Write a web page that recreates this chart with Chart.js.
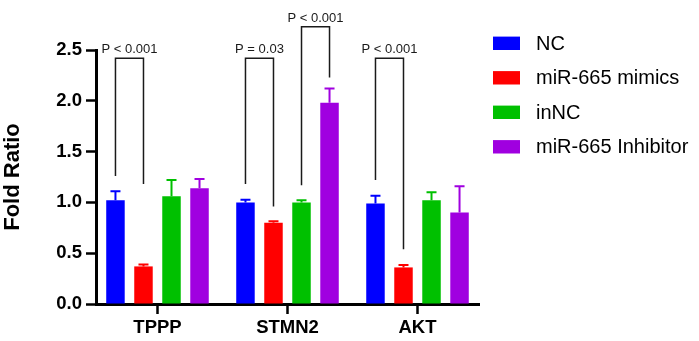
<!DOCTYPE html>
<html><head><meta charset="utf-8">
<script src="https://cdn.jsdelivr.net/npm/chart.js@4/dist/chart.umd.min.js"></script>
<style>html,body{margin:0;padding:0;background:#fff;overflow:hidden;}</style>
</head><body>
<canvas id="c" width="699" height="341"></canvas>
<script>
const categories = ['TPPP', 'STMN2', 'AKT'];
const seriesNames = ['NC', 'miR-665 mimics', 'inNC', 'miR-665 Inhibitor'];
const seriesColors = ['#0000FF', '#FF0000', '#00C000', '#A000E0'];
const ncValues = [1.02, 1.00, 0.99];
const ncErrors = [0.09, 0.025, 0.075];
const mimicsValues = [0.37, 0.80, 0.36];
const mimicsErrors = [0.02, 0.015, 0.025];
const inncValues = [1.06, 1.00, 1.02];
const inncErrors = [0.16, 0.02, 0.08];
const inhibitorValues = [1.14, 1.98, 0.90];
const inhibitorErrors = [0.09, 0.14, 0.26];
const yTickLabels = ['0.0', '0.5', '1.0', '1.5', '2.0', '2.5'];

// significance brackets
const sigCategory = [0, 1, 1, 2];
const sigFrom = [0, 0, 2, 0];
const sigTo = [1, 1, 3, 1];
const sigTop = [2.42, 2.42, 2.73, 2.42];
const sigFromEnd = [1.26, 1.18, 1.17, 1.22];
const sigToEnd = [1.18, 0.96, 2.23, 0.54];
const sigLabels = ['P < 0.001', 'P = 0.03', 'P < 0.001', 'P < 0.001'];

const allValues = [ncValues, mimicsValues, inncValues, inhibitorValues];
const allErrors = [ncErrors, mimicsErrors, inncErrors, inhibitorErrors];
const FONT = "'Liberation Sans', Arial, Helvetica, sans-serif";

const datasets = seriesNames.map((name, i) => ({
  label: name,
  data: allValues[i].map((v, j) => ({x: j, y: v})),
  backgroundColor: seriesColors[i],
  borderWidth: 0,
  categoryPercentage: 0.862,
  barPercentage: 0.66
}));

const extrasPlugin = {
  id: 'extras',
  afterDatasetsDraw(chart) {
    const ctx = chart.ctx;
    const ys = chart.scales.y;
    // error bars
    chart.data.datasets.forEach((ds, i) => {
      const meta = chart.getDatasetMeta(i);
      meta.data.forEach((bar, j) => {
        const top = ys.getPixelForValue(allValues[i][j] + allErrors[i][j]);
        const base = ys.getPixelForValue(allValues[i][j]);
        ctx.save();
        ctx.strokeStyle = seriesColors[i];
        ctx.lineWidth = 2;
        ctx.beginPath();
        ctx.moveTo(bar.x, base);
        ctx.lineTo(bar.x, top);
        ctx.moveTo(bar.x - 5, top);
        ctx.lineTo(bar.x + 5, top);
        ctx.stroke();
        ctx.restore();
      });
    });
    // significance brackets
    sigCategory.forEach((c, k) => {
      const x1 = chart.getDatasetMeta(sigFrom[k]).data[c].x;
      const x2 = chart.getDatasetMeta(sigTo[k]).data[c].x;
      const yt = ys.getPixelForValue(sigTop[k]);
      const y1 = ys.getPixelForValue(sigFromEnd[k]);
      const y2 = ys.getPixelForValue(sigToEnd[k]);
      ctx.save();
      ctx.strokeStyle = '#1a1a1a';
      ctx.lineWidth = 1.5;
      ctx.beginPath();
      ctx.moveTo(x1, y1);
      ctx.lineTo(x1, yt);
      ctx.lineTo(x2, yt);
      ctx.lineTo(x2, y2);
      ctx.stroke();
      ctx.fillStyle = '#1a1a1a';
      ctx.font = '13px ' + FONT;
      ctx.textAlign = 'center';
      ctx.textBaseline = 'alphabetic';
      ctx.fillText(sigLabels[k], (x1 + x2) / 2, yt - 5);
      ctx.restore();
    });
  },
  afterDraw(chart) {
    // legend
    const ctx = chart.ctx;
    const area = chart.chartArea;
    const bx = area.right + 14;
    ctx.save();
    chart.data.datasets.forEach((ds, i) => {
      const cy = area.top - 6.7 + i * 34.5;
      ctx.fillStyle = ds.backgroundColor;
      ctx.fillRect(bx, cy - 6.7, 27, 13.4);
      ctx.fillStyle = '#000';
      ctx.font = '20px ' + FONT;
      ctx.textAlign = 'left';
      ctx.textBaseline = 'middle';
      ctx.fillText(ds.label, bx + 43, cy + 1);
    });
    ctx.restore();
  }
};

new Chart(document.getElementById('c'), {
  type: 'bar',
  data: {datasets},
  plugins: [extrasPlugin],
  options: {
    responsive: false,
    animation: false,
    devicePixelRatio: 1,
    layout: {padding: {top: 50, right: 220, bottom: 0, left: 0}},
    plugins: {legend: {display: false}, tooltip: {enabled: false}},
    scales: {
      x: {
        type: 'linear',
        min: -0.473,
        max: 2.473,
        offset: false,
        grid: {display: true, drawOnChartArea: false, drawTicks: true, tickLength: 10, tickWidth: 2.5, tickColor: '#000', offset: false},
        border: {display: true, color: '#000', width: 3},
        afterBuildTicks: (s) => { s.ticks = categories.map((_, i) => ({value: i})); },
        ticks: {
          autoSkip: false, maxRotation: 0, padding: 3, color: '#000',
          font: {family: FONT, size: 18.5, weight: 'bold'},
          callback: (v) => categories[Math.round(v)]
        },
        afterFit: (s) => { s.height = 37; }
      },
      y: {
        min: 0,
        max: 2.5,
        grid: {display: true, drawOnChartArea: false, drawTicks: true, tickLength: 10, tickWidth: 2.5, tickColor: '#000'},
        border: {display: true, color: '#000', width: 3},
        ticks: {
          stepSize: 0.5, padding: 4, color: '#000',
          font: {family: FONT, size: 18.5, weight: 'bold'},
          callback: (v) => yTickLabels[Math.round(v / 0.5)]
        },
        title: {display: true, text: 'Fold Ratio', color: '#000', font: {family: FONT, size: 22, weight: 'bold'}, padding: {top: 0, bottom: 0}},
        afterFit: (s) => { s.width = 96; }
      }
    }
  }
});
</script>
</body></html>
